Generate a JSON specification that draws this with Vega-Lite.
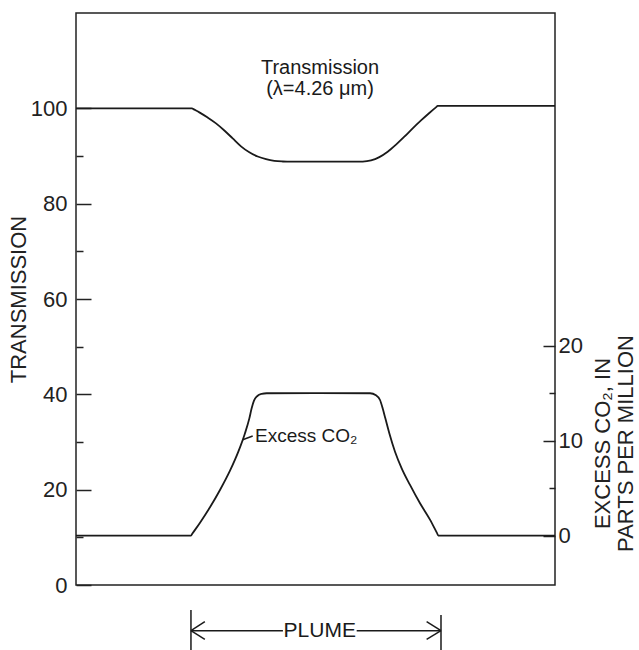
{
  "$schema": "https://vega.github.io/schema/vega-lite/v6.json",
  "width": 479,
  "height": 572,
  "autosize": {"type": "none"},
  "padding": {"left": 76, "top": 13, "right": 84, "bottom": 65},
  "background": "white",
  "config": {
    "font": "Liberation Sans",
    "view": {"stroke": "#222", "strokeWidth": 1.5},
    "axis": {
      "labelFont": "Liberation Sans",
      "titleFont": "Liberation Sans",
      "labelFontSize": 22,
      "titleFontSize": 22,
      "titleFontWeight": "normal",
      "labelColor": "#222",
      "titleColor": "#222",
      "tickColor": "#222",
      "tickWidth": 1.5,
      "domain": false,
      "grid": false
    }
  },
  "datasets": {
    "trans": [
      {"x": 0, "t": 100.0}, {"x": 24.22, "t": 100.0}, {"x": 24.5, "t": 99.84}, {"x": 25.75, "t": 99.15},
      {"x": 27.49, "t": 98.06}, {"x": 29.23, "t": 96.84}, {"x": 30.97, "t": 95.35}, {"x": 32.71, "t": 93.69},
      {"x": 34.45, "t": 92.03}, {"x": 36.19, "t": 90.77}, {"x": 37.93, "t": 89.89}, {"x": 39.67, "t": 89.34},
      {"x": 41.41, "t": 88.99}, {"x": 43.15, "t": 88.85}, {"x": 45.0, "t": 88.8}, {"x": 58.0, "t": 88.8},
      {"x": 59.85, "t": 88.82}, {"x": 61.59, "t": 89.07}, {"x": 63.33, "t": 89.77}, {"x": 65.07, "t": 90.9},
      {"x": 66.81, "t": 92.39}, {"x": 68.55, "t": 94.05}, {"x": 70.29, "t": 95.8}, {"x": 72.03, "t": 97.46},
      {"x": 73.76, "t": 99.03}, {"x": 75.2, "t": 100.26}, {"x": 75.5, "t": 100.5}, {"x": 100, "t": 100.5}
    ],
    "co2": [
      {"x": 0, "ppm": 0}, {"x": 24.01, "ppm": 0}, {"x": 24.3, "ppm": 0.21}, {"x": 25.89, "ppm": 1.36},
      {"x": 27.97, "ppm": 2.98}, {"x": 30.06, "ppm": 4.8}, {"x": 32.15, "ppm": 6.83}, {"x": 33.89, "ppm": 8.83},
      {"x": 35.28, "ppm": 10.77}, {"x": 36.19, "ppm": 12.34}, {"x": 36.67, "ppm": 13.4}, {"x": 37.16, "ppm": 14.2},
      {"x": 37.86, "ppm": 14.69}, {"x": 38.76, "ppm": 14.91}, {"x": 39.81, "ppm": 14.98}, {"x": 50.0, "ppm": 15.0},
      {"x": 61.38, "ppm": 14.98}, {"x": 62.63, "ppm": 14.77}, {"x": 63.47, "ppm": 14.27}, {"x": 64.02, "ppm": 13.4},
      {"x": 64.58, "ppm": 12.34}, {"x": 65.41, "ppm": 10.77}, {"x": 66.6, "ppm": 8.83}, {"x": 67.99, "ppm": 7.08},
      {"x": 69.73, "ppm": 5.33}, {"x": 71.82, "ppm": 3.4}, {"x": 73.9, "ppm": 1.68}, {"x": 75.35, "ppm": 0.28},
      {"x": 75.64, "ppm": 0}, {"x": 100, "ppm": 0}
    ],
    "seg": [
      {"x1": 34.8, "y1": 30.48, "x2": 36.89, "y2": 31.26},
      {"x1": 24.0, "y1": -5.24, "x2": 24.0, "y2": -13.7},
      {"x1": 76.2, "y1": -6.3, "x2": 76.2, "y2": -13.7},
      {"x1": 24.0, "y1": -9.59, "x2": 43.2, "y2": -9.59},
      {"x1": 58.6, "y1": -9.59, "x2": 76.2, "y2": -9.59},
      {"x1": 24.0, "y1": -9.59, "x2": 26.9, "y2": -7.7},
      {"x1": 24.0, "y1": -9.59, "x2": 26.9, "y2": -11.4},
      {"x1": 76.2, "y1": -9.59, "x2": 73.2, "y2": -7.7},
      {"x1": 76.2, "y1": -9.59, "x2": 73.2, "y2": -11.4}
    ],
    "labTrans": [{"x": 50.94, "t": 108.45, "label": "Transmission\n(λ=4.26 μm)"}],
    "labCO2": [{"x": 37.37, "t": 31.32, "label": "Excess CO₂"}],
    "labPlume": [{"x": 50.88, "t": -9.59, "label": "PLUME"}]
  },
  "layer": [
    {
      "data": {"name": "trans"},
      "mark": {"type": "line", "stroke": "#1a1a1a", "strokeWidth": 1.8, "interpolate": "monotone"},
      "encoding": {
        "x": {"field": "x", "type": "quantitative", "scale": {"domain": [0, 100], "nice": false, "zero": false}, "axis": null},
        "y": {
          "field": "t", "type": "quantitative",
          "scale": {"domain": [0, 120], "nice": false, "zero": false},
          "axis": {"orient": "left", "values": [0, 20, 40, 60, 80, 100], "tickSize": -15, "labelPadding": 24, "title": "TRANSMISSION", "titlePadding": 0}
        }
      }
    },
    {
      "data": {"name": "seg"},
      "mark": {"type": "rule", "stroke": "#1a1a1a", "strokeWidth": 1.5},
      "encoding": {
        "x": {"field": "x1", "type": "quantitative", "scale": {"domain": [0, 100], "nice": false, "zero": false}, "axis": null},
        "x2": {"field": "x2"},
        "y": {"field": "y1", "type": "quantitative", "scale": {"domain": [0, 120], "nice": false, "zero": false}, "axis": null},
        "y2": {"field": "y2"}
      }
    },
    {
      "data": {"name": "labTrans"},
      "mark": {"type": "text", "align": "center", "baseline": "middle", "fontSize": 20, "lineBreak": "\n", "lineHeight": 21, "color": "#1a1a1a"},
      "encoding": {
        "x": {"field": "x", "type": "quantitative", "scale": {"domain": [0, 100], "nice": false, "zero": false}, "axis": null},
        "y": {"field": "t", "type": "quantitative", "scale": {"domain": [0, 120], "nice": false, "zero": false}, "axis": null},
        "text": {"field": "label", "type": "nominal"}
      }
    },
    {
      "data": {"name": "labCO2"},
      "mark": {"type": "text", "align": "left", "baseline": "middle", "fontSize": 19, "color": "#1a1a1a"},
      "encoding": {
        "x": {"field": "x", "type": "quantitative", "scale": {"domain": [0, 100], "nice": false, "zero": false}, "axis": null},
        "y": {"field": "t", "type": "quantitative", "scale": {"domain": [0, 120], "nice": false, "zero": false}, "axis": null},
        "text": {"field": "label", "type": "nominal"}
      }
    },
    {
      "data": {"name": "labPlume"},
      "mark": {"type": "text", "align": "center", "baseline": "middle", "fontSize": 21, "color": "#1a1a1a"},
      "encoding": {
        "x": {"field": "x", "type": "quantitative", "scale": {"domain": [0, 100], "nice": false, "zero": false}, "axis": null},
        "y": {"field": "t", "type": "quantitative", "scale": {"domain": [0, 120], "nice": false, "zero": false}, "axis": null},
        "text": {"field": "label", "type": "nominal"}
      }
    },
    {
      "data": {"name": "trans"},
      "mark": {"type": "line", "opacity": 0},
      "encoding": {
        "x": {"field": "x", "type": "quantitative", "scale": {"domain": [0, 100], "nice": false, "zero": false}, "axis": null},
        "y": {
          "field": "t", "type": "quantitative",
          "scale": {"domain": [0, 120], "nice": false, "zero": false},
          "axis": {"orient": "left", "values": [10, 30, 50, 70, 90], "tickSize": -7, "labels": false, "title": null}
        }
      }
    },
    {
      "data": {"name": "co2"},
      "mark": {"type": "line", "stroke": "#1a1a1a", "strokeWidth": 1.8, "interpolate": "monotone"},
      "encoding": {
        "x": {"field": "x", "type": "quantitative", "scale": {"domain": [0, 100], "nice": false, "zero": false}, "axis": null},
        "y": {
          "field": "ppm", "type": "quantitative",
          "scale": {"domain": [-5.2, 55], "nice": false, "zero": false},
          "axis": {
            "orient": "right", "values": [0, 10, 20], "tickSize": -12, "labelPadding": 15,
            "title": ["EXCESS CO₂, IN", "PARTS PER MILLION"],
            "titleAngle": 270, "titleBaseline": "top", "titleLineHeight": 23, "titlePadding": -13, "titleY": 430
          }
        }
      }
    },
    {
      "data": {"name": "co2"},
      "mark": {"type": "line", "opacity": 0},
      "encoding": {
        "x": {"field": "x", "type": "quantitative", "scale": {"domain": [0, 100], "nice": false, "zero": false}, "axis": null},
        "y": {
          "field": "ppm", "type": "quantitative",
          "scale": {"domain": [-5.2, 55], "nice": false, "zero": false},
          "axis": {"orient": "right", "values": [5, 15], "tickSize": -6, "labels": false, "title": null}
        }
      }
    }
  ],
  "resolve": {"scale": {"y": "independent"}, "axis": {"y": "independent"}}
}
